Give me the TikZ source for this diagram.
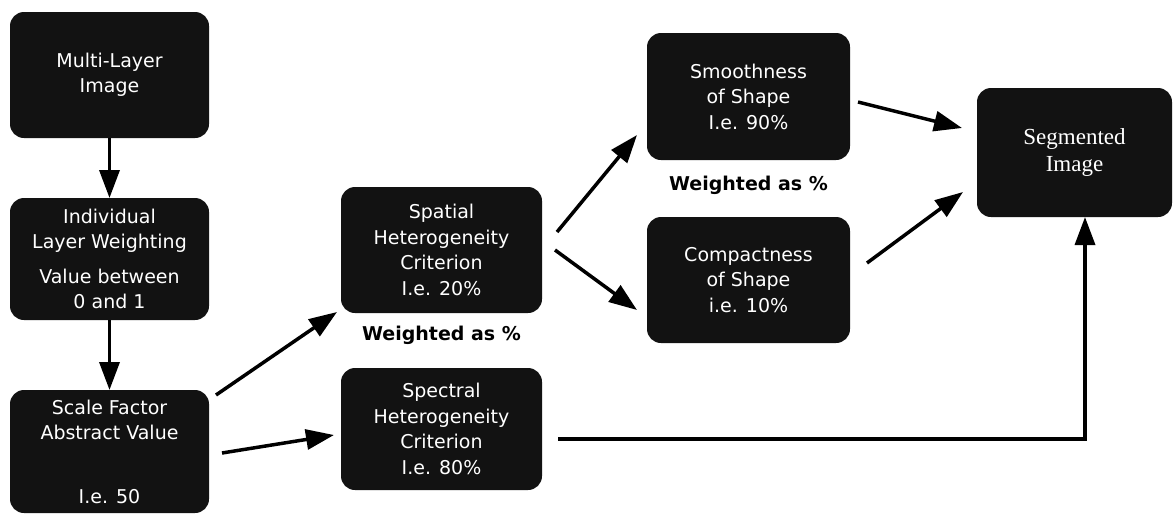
\documentclass[tikz,border=0pt]{standalone}
\usepackage{fontspec}
\setmainfont{DejaVu Sans}
\newfontfamily\serifface{Liberation Serif}
\usetikzlibrary{arrows.meta,calc}
\definecolor{boxfill}{gray}{0.07}
\begin{document}
\begin{tikzpicture}[x=1pt,y=-1pt,
  box/.style={draw=none, fill=boxfill, rounded corners=14pt, text=white,
    align=center, inner sep=0pt, outer sep=0pt,
    font=\fontsize{19}{25.5}\selectfont},
  flow/.style={line width=3.5pt, -{Triangle[length=28pt,width=20pt]}},
  note/.style={inner sep=0pt, font=\fontsize{19}{23}\selectfont\bfseries}]
\useasboundingbox (0,0) rectangle (1175,515);
\fill[white] (0,0) rectangle (1175,515);

% left column
\node[box, minimum width=199pt, minimum height=126pt] (multi) at (109.5,75)
  {Multi-Layer\\Image};
\node[box, minimum width=199pt, minimum height=122pt] (indiv) at (109.5,259)
  {Individual\\Layer Weighting\\[9pt]Value between\\0 and 1};
\node[box, minimum width=199pt, minimum height=123pt] (scale) at (109.5,451.5)
  {Scale Factor\\Abstract Value\\[38pt]I.e. 50};

% heterogeneity criteria
\node[box, minimum width=201pt, minimum height=126pt] (spatial) at (441.5,250)
  {Spatial\\Heterogeneity\\Criterion\\I.e. 20\%};
\node[note] (wlow) at (441.5,335) {Weighted as \%};
\node[box, minimum width=201pt, minimum height=122pt] (spectral) at (441.5,429)
  {Spectral\\Heterogeneity\\Criterion\\I.e. 80\%};

% shape criteria
\node[box, minimum width=203pt, minimum height=127pt] (smooth) at (748.5,96.5)
  {Smoothness\\of Shape\\I.e. 90\%};
\node[note] (wup) at (748.5,185) {Weighted as \%};
\node[box, minimum width=203pt, minimum height=126pt] (compact) at (748.5,280)
  {Compactness\\of Shape\\i.e. 10\%};

% result
\node[box, minimum width=195pt, minimum height=129pt,
  font=\serifface\fontsize{23}{27}\selectfont] (seg) at (1074.5,152.5)
  {Segmented\\Image};

% connectors
\draw[flow] (multi.south) -- (indiv.north);
\draw[flow] (indiv.south) -- (scale.north);
\draw[flow] ($(scale.east)+(7,-56.5)$) -- ($(spatial.west)+(-4,62)$);
\draw[flow] ($(scale.east)+(13,1.5)$) -- ($(spectral.west)+(-7,6)$);
\draw[flow] ($(spatial.east)+(15,-18)$) -- ($(smooth.west)+(-10,38.5)$);
\draw[flow] ($(spatial.east)+(13,0)$) -- ($(compact.west)+(-10,30)$);
\draw[flow] ($(smooth.east)+(8,5.5)$) -- ($(seg.west)+(-15,-24.5)$);
\draw[flow] ($(compact.east)+(17,-17)$) -- ($(seg.west)+(-14,39.5)$);
\draw[flow] ($(spectral.east)+(16,10)$) -| ($(seg.south)+(10.5,0)$);
\end{tikzpicture}
\end{document}
